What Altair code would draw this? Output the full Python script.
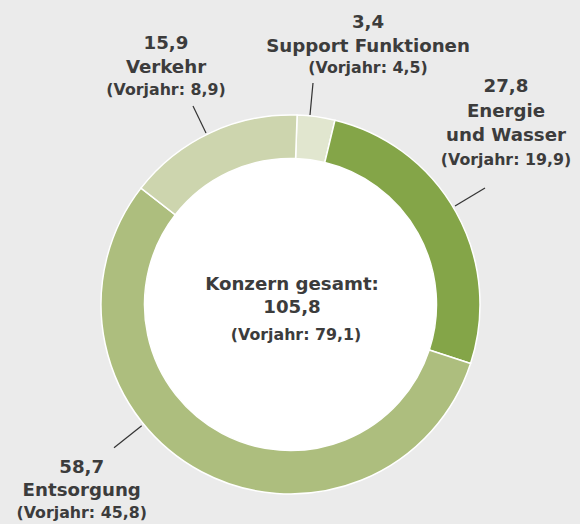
import math
import altair as alt
import pandas as pd

# ---- data ----
categories = ["Support Funktionen", "Energie und Wasser", "Entsorgung", "Verkehr"]
values = [3.4, 27.8, 58.7, 15.9]
previous = [4.5, 19.9, 45.8, 8.9]
colors = ["#e1e6cf", "#84a548", "#adbe7e", "#cdd5ae"]
total_label = "105,8"
total_prev = "79,1"

def de(v):
    return f"{v:.1f}".replace(".", ",")

df = pd.DataFrame({"category": categories, "value": values,
                   "order": list(range(len(categories)))})

# ---- layout (page coordinates; page margin removed via defaultStyle) ----
OFF = 0
BG = "#ebebeb"
CX, CY = 290.5 - OFF, 304.5 - OFF
R_OUT, R_IN = 189.5, 146
START = math.radians(2)
FONT = "DejaVu Sans"
TXT = "#3c3c3c"
BIG, SMALL = 18.2, 15.8

# label block positions: (x center, [baselines])
label_layout = {
    "Verkehr": (166, [49, 72.5, 95]),
    "Support Funktionen": (368, [27.7, 51.7, 73.3]),
    "Energie und Wasser": (506, [92, 116.5, 141, 165]),
    "Entsorgung": (81.7, [472.7, 496, 518.3]),
}
leaders = {
    "Verkehr": (193, 106, 206, 133),
    "Support Funktionen": (313, 83, 310, 115),
    "Energie und Wasser": (485, 188, 455, 206),
    "Entsorgung": (114, 447.7, 141.7, 425.7),
}

disk = alt.Chart(pd.DataFrame({"a": [0]})).mark_circle(
    size=4 * R_IN ** 2, color="white", opacity=1
).encode(x=alt.value(CX), y=alt.value(CY))

arcs = alt.Chart(df).mark_arc(radius=R_OUT, innerRadius=R_IN, stroke="white",
                              strokeWidth=1.5).encode(
    theta=alt.Theta("value:Q", stack=True,
                    scale=alt.Scale(range=[START, START + 2 * math.pi])),
    order=alt.Order("order:Q"),
    color=alt.Color("category:N", scale=alt.Scale(domain=categories, range=colors),
                    legend=None),
    x=alt.value(CX), y=alt.value(CY),
)

layers = [disk, arcs]

# leader lines
for cat in categories:
    x1, y1, x2, y2 = leaders[cat]
    layers.append(alt.Chart(pd.DataFrame({"category": [cat]})).mark_rule(
        color="#333333", strokeWidth=1.2).encode(
        x=alt.value(x1 - OFF), y=alt.value(y1 - OFF),
        x2=alt.value(x2 - OFF), y2=alt.value(y2 - OFF)))

# labels
text_rows = []
for cat, v, p in zip(categories, values, previous):
    xc, ys = label_layout[cat]
    if cat == "Energie und Wasser":
        lines = [de(v), "Energie", "und Wasser", f"(Vorjahr: {de(p)})"]
    else:
        lines = [de(v), cat, f"(Vorjahr: {de(p)})"]
    for t, y in zip(lines, ys):
        text_rows.append({"t": t, "x": xc, "y": y,
                          "size": SMALL if t.startswith("(") else BIG})

text_rows += [
    {"t": "Konzern gesamt:", "x": 292, "y": 290, "size": BIG},
    {"t": total_label, "x": 292, "y": 313.3, "size": BIG},
    {"t": f"(Vorjahr: {total_prev})", "x": 296, "y": 340, "size": SMALL},
]
for r in text_rows:
    layers.append(alt.Chart(pd.DataFrame({"t": [r["t"]]})).mark_text(
        font=FONT, fontWeight="bold", fontSize=r["size"], color=TXT,
        align="center", baseline="alphabetic").encode(
        text="t:N", x=alt.value(r["x"] - OFF), y=alt.value(r["y"] - OFF)))

chart = alt.layer(*layers).properties(
    width=580, height=524,
    autosize=alt.AutoSizeParams(type="none"),
    padding=0,
    background=BG,
).configure_view(stroke=None)

chart.save("out.html", embed_options={
    "renderer": "svg", "actions": False,
    "defaultStyle": "html,body{margin:0;padding:0;overflow:hidden;background:#ebebeb}"
                    ".vega-embed{display:block}",
})
